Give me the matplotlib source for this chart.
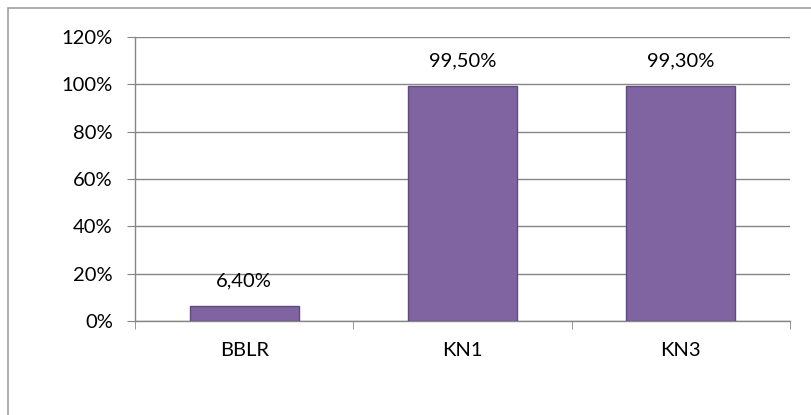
import matplotlib.pyplot as plt
from matplotlib.patches import Rectangle
from matplotlib.ticker import FuncFormatter

plt.rcParams["font.family"] = ["Lato", "DejaVu Sans"]

categories = ["BBLR", "KN1", "KN3"]
values = [6.40, 99.50, 99.30]
labels = ["6,40%", "99,50%", "99,30%"]

fig = plt.figure(figsize=(8.11, 4.15), dpi=100)
# outer chart border (clipped at right and bottom like the source)
fig.patches.append(Rectangle((8 / 811, -0.1), 1.2, (415 - 8) / 415 + 0.1,
                             transform=fig.transFigure, fill=False,
                             edgecolor="#a0a0a0", linewidth=1.2))

ax = fig.add_axes([135 / 811, (415 - 321) / 415, (790 - 135) / 811, (321 - 37) / 415])

x = range(len(categories))
bars = ax.bar(x, values, width=0.5, color="#8064a2", edgecolor="#5e4b7c",
              linewidth=1, zorder=3)

for b, lab in zip(bars, labels):
    ax.annotate(lab, (b.get_x() + b.get_width() / 2, b.get_height()),
                xytext=(0, 18), textcoords="offset points",
                ha="center", va="center", fontsize=14.5, color="black")

ax.set_xlim(-0.5, len(categories) - 0.5)
ax.set_ylim(0, 120)
ax.set_yticks(range(0, 121, 20))
ax.yaxis.set_major_formatter(FuncFormatter(lambda v, p: f"{int(v)}%"))
ax.set_xticks(x)
ax.set_xticklabels(categories)
ax.set_xticks([-0.5, 0.5, 1.5, 2.5], minor=True)

ax.grid(axis="y", color="#868686", linewidth=1, zorder=0)
for s in ["top", "right"]:
    ax.spines[s].set_visible(False)
for s in ["left", "bottom"]:
    ax.spines[s].set_color("#868686")
    ax.spines[s].set_linewidth(1)

ax.tick_params(axis="y", length=6, color="#868686", labelsize=14.5, pad=10)
ax.tick_params(axis="x", which="major", length=0, labelsize=14.5, pad=15)
ax.tick_params(axis="x", which="minor", length=6, color="#868686")

fig.savefig("out.png", dpi=100)
